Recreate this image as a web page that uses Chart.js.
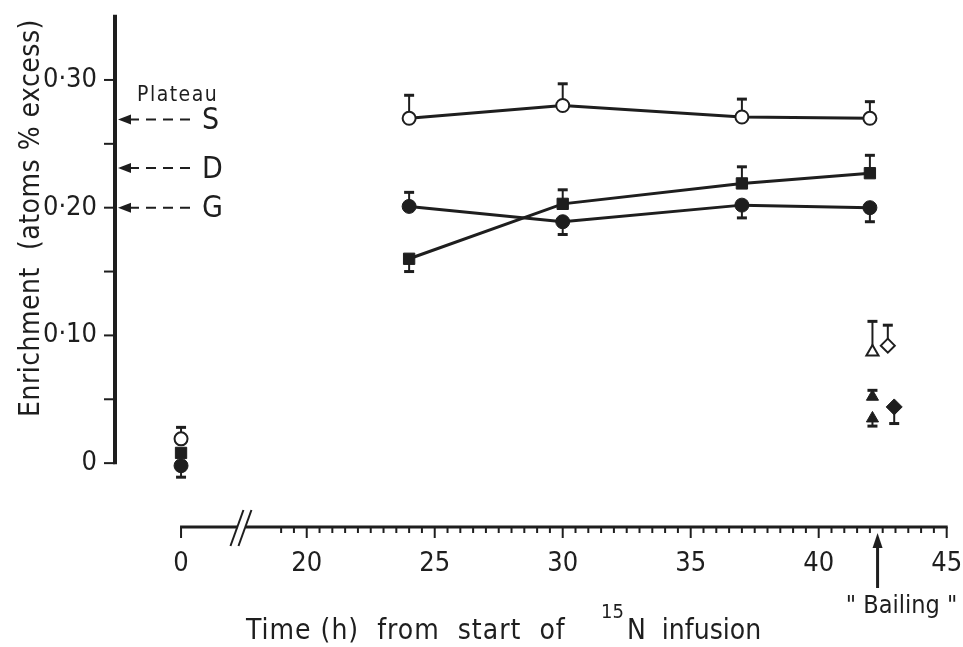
<!DOCTYPE html>
<html>
<head>
<meta charset="utf-8">
<script src="https://cdn.jsdelivr.net/npm/chart.js@4.4.1/dist/chart.umd.min.js"></script>
<style>
  html, body { margin: 0; padding: 0; background: #fff; }
  #wrap { width: 963px; height: 647px; }
</style>
</head>
<body>
<div id="wrap"><canvas id="enrichChart" width="963" height="647"></canvas></div>
<script>
// sampling times (h from start of 15N infusion)
const times = [0, 24, 30, 37, 42];

// S - open circles, error bars above
const sValues = [0.019, 0.270, 0.280, 0.271, 0.270];
const sErr = [0.009, 0.018, 0.017, 0.014, 0.013];
const sErrDir = [1, 1, 1, 1, 1];

// D - filled squares
const dValues = [0.008, 0.160, 0.203, 0.219, 0.227];
const dErr = [0, 0.010, 0.011, 0.013, 0.014];
const dErrDir = [1, -1, 1, 1, 1];

// G - filled circles
const gValues = [-0.002, 0.201, 0.189, 0.202, 0.200];
const gErr = [0.009, 0.011, 0.010, 0.010, 0.011];
const gErrDir = [-1, 1, -1, -1, -1];

// samples taken at bailing
const bailTriTime = 42.1;
const bailOpenDiaTime = 42.7;
const bailFilledDiaTime = 42.95;
const openTriValues = [0.087];
const openTriErr = [0.024];
const openDiaValues = [0.092];
const openDiaErr = [0.016];
const filledTriValues = [0.052, 0.035];
const filledTriErr = [0.005, 0.006];
const filledTriDir = [1, -1];
const filledDiaValues = [0.044];
const filledDiaErr = [0.013];
const bailingTime = 42.3;

// plateau enrichment marked on the y axis
const plateauLabels = ['S', 'D', 'G'];
const plateauValues = [0.269, 0.231, 0.200];

// axis ticks
const yTickValues = [0, 0.10, 0.20, 0.30];
const yTickLabels = ['0', '0·10', '0·20', '0·30'];
const yMinorTicks = [0.05, 0.15, 0.25];
const yAxisTop = 0.351;
const xTickValues = [0, 20, 25, 30, 35, 40, 45];
const xTickLabels = ['0', '20', '25', '30', '35', '40', '45'];

// broken time axis: t = 0 sits just left of the break
const ZERO_POS = 15.09;
const BREAK_POS = 17.45;
function xPos(t) { return t === 0 ? ZERO_POS : t; }

const ink = '#1e1e1e';
const FONT = '"DejaVu Sans Condensed", "DejaVu Sans", sans-serif';

function toPoints(ts, vals) {
    return vals.map((v, i) => ({ x: xPos(Array.isArray(ts) ? ts[i] : ts), y: v }));
}

// no line between the t = 0 sample and the 24 h one
const skipFirst = {
    borderColor: ctx => ctx.p0DataIndex === 0 ? 'rgba(0,0,0,0)' : ink
};

function line(ctx, x1, y1, x2, y2) {
    ctx.beginPath();
    ctx.moveTo(x1, y1);
    ctx.lineTo(x2, y2);
    ctx.stroke();
}

// keep the plot area fixed, labels may hang over its edges
function noLabelPadding(axis) {
    axis.paddingLeft = 0;
    axis.paddingRight = 0;
    axis.paddingTop = 0;
    axis.paddingBottom = 0;
}

const paperNotes = {
    id: 'paperNotes',
    beforeDatasetsDraw(chart) {
        const ctx = chart.ctx;
        const x = chart.scales.x, y = chart.scales.y;
        const area = chart.chartArea;
        ctx.save();
        ctx.strokeStyle = ink;
        ctx.fillStyle = ink;
        ctx.lineCap = 'butt';

        // y axis
        const ax = area.left;
        ctx.lineWidth = 4;
        line(ctx, ax, y.getPixelForValue(0) + 1, ax, y.getPixelForValue(yAxisTop));
        ctx.lineWidth = 2;
        yTickValues.concat(yMinorTicks).forEach(v => {
            const py = y.getPixelForValue(v);
            line(ctx, ax - 11, py, ax, py);
        });

        // x axis, broken between 0 and 19 h
        const by = area.bottom;
        const x0 = x.getPixelForValue(ZERO_POS);
        const xb = x.getPixelForValue(BREAK_POS);
        const xe = x.getPixelForValue(45);
        ctx.lineWidth = 3;
        line(ctx, x0 - 1, by, xb - 4, by);
        line(ctx, xb + 4, by, xe + 1, by);
        ctx.lineWidth = 2;
        line(ctx, x0, by, x0, by + 11);
        for (let t = 19; t <= 45; t += 0.5) {
            const px = x.getPixelForValue(t);
            line(ctx, px, by, px, by + (t % 5 === 0 ? 11 : 6));
        }
        // break marks
        line(ctx, xb - 11, by + 19, xb + 2, by - 17);
        line(ctx, xb - 3, by + 19, xb + 10, by - 17);

        // error bars (markers go on top)
        chart.data.datasets.forEach(ds => {
            if (!ds.errors) return;
            ds.data.forEach((p, i) => {
                const e = ds.errors[i];
                if (!e) return;
                const px = x.getPixelForValue(p.x);
                const py0 = y.getPixelForValue(p.y);
                const py1 = y.getPixelForValue(p.y + ds.errDir[i] * e);
                ctx.lineWidth = 2;
                line(ctx, px, py0, px, py1);
                ctx.lineWidth = 3;
                line(ctx, px - 5, py1, px + 5, py1);
            });
        });
        ctx.restore();
    },
    afterDraw(chart) {
        const ctx = chart.ctx;
        const x = chart.scales.x, y = chart.scales.y;
        const area = chart.chartArea;
        const ax = area.left;
        ctx.save();
        ctx.strokeStyle = ink;
        ctx.fillStyle = ink;

        // plateau arrows
        ctx.font = '21px ' + FONT;
        ctx.letterSpacing = '1.5px';
        ctx.textBaseline = 'middle';
        ctx.textAlign = 'left';
        ctx.fillText('Plateau', 137, 96);
        ctx.letterSpacing = '0px';
        ctx.font = '30px ' + FONT;
        plateauValues.forEach((v, i) => {
            const py = y.getPixelForValue(v);
            ctx.beginPath();
            ctx.moveTo(ax + 3, py);
            ctx.lineTo(ax + 16, py - 5);
            ctx.lineTo(ax + 16, py + 5);
            ctx.closePath();
            ctx.fill();
            ctx.lineWidth = 2;
            ctx.setLineDash([10, 7]);
            line(ctx, ax + 14, py, ax + 80, py);
            ctx.setLineDash([]);
            ctx.fillText(plateauLabels[i], ax + 87, py + 2);
        });

        // bailing arrow
        const bx = x.getPixelForValue(bailingTime);
        const by = area.bottom;
        ctx.lineWidth = 3;
        line(ctx, bx, by + 18, bx, by + 61);
        ctx.beginPath();
        ctx.moveTo(bx, by + 6);
        ctx.lineTo(bx - 5, by + 21);
        ctx.lineTo(bx + 5, by + 21);
        ctx.closePath();
        ctx.fill();
        ctx.font = '25px ' + FONT;
        ctx.textAlign = 'center';
        ctx.fillText('" Bailing "', bx + 24, 606);

        // axis titles
        ctx.textAlign = 'left';
        ctx.textBaseline = 'alphabetic';
        ctx.font = '28px ' + FONT;
        ctx.letterSpacing = '1px';
        ctx.fillText('Time (h)  from  start  of', 246, 639);
        ctx.letterSpacing = '0px';
        ctx.fillText('N  infusion', 627, 639);
        ctx.font = '20px ' + FONT;
        ctx.fillText('15', 601, 618);

        ctx.letterSpacing = '0.5px';
        ctx.translate(39, 417);
        ctx.rotate(-Math.PI / 2);
        ctx.font = '28px ' + FONT;
        ctx.fillText('Enrichment  (atoms % excess)', 0, 0);
        ctx.restore();
    }
};

const lineOpts = { showLine: true, borderColor: ink, borderWidth: 3, segment: skipFirst };

new Chart(document.getElementById('enrichChart'), {
    type: 'scatter',
    data: {
        datasets: [
            Object.assign({
                label: 'G', data: toPoints(times, gValues), errors: gErr, errDir: gErrDir,
                pointStyle: 'circle', pointRadius: 7, pointBackgroundColor: ink, pointBorderColor: ink, pointBorderWidth: 1
            }, lineOpts),
            Object.assign({
                label: 'D', data: toPoints(times, dValues), errors: dErr, errDir: dErrDir,
                pointStyle: 'rect', pointRadius: 8, pointBackgroundColor: ink, pointBorderColor: ink, pointBorderWidth: 1
            }, lineOpts),
            Object.assign({
                label: 'S', data: toPoints(times, sValues), errors: sErr, errDir: sErrDir,
                pointStyle: 'circle', pointRadius: 6.5, pointBackgroundColor: '#fff', pointBorderColor: ink, pointBorderWidth: 2
            }, lineOpts),
            {
                label: 'open triangle', data: toPoints(bailTriTime, openTriValues), errors: openTriErr, errDir: [1],
                pointStyle: 'triangle', pointRadius: 7, pointBackgroundColor: '#fff', pointBorderColor: ink, pointBorderWidth: 2
            },
            {
                label: 'open diamond', data: toPoints(bailOpenDiaTime, openDiaValues), errors: openDiaErr, errDir: [1],
                pointStyle: 'rectRot', pointRadius: 7, pointBackgroundColor: '#fff', pointBorderColor: ink, pointBorderWidth: 2
            },
            {
                label: 'filled triangle', data: toPoints(bailTriTime, filledTriValues), errors: filledTriErr, errDir: filledTriDir,
                pointStyle: 'triangle', pointRadius: 7, pointBackgroundColor: ink, pointBorderColor: ink, pointBorderWidth: 1
            },
            {
                label: 'filled diamond', data: toPoints(bailFilledDiaTime, filledDiaValues), errors: filledDiaErr, errDir: [-1],
                pointStyle: 'rectRot', pointRadius: 8, pointBackgroundColor: ink, pointBorderColor: ink, pointBorderWidth: 1
            }
        ]
    },
    options: {
        responsive: false,
        animation: false,
        devicePixelRatio: 1,
        events: [],
        layout: { autoPadding: false, padding: { left: 0, right: 3, top: 0, bottom: 0 } },
        plugins: { legend: { display: false }, tooltip: { enabled: false } },
        scales: {
            x: {
                type: 'linear',
                min: 12.51,
                max: 45.52,
                grid: { display: false, drawTicks: false },
                border: { display: false },
                afterFit: axis => { axis.height = 120; noLabelPadding(axis); },
                afterBuildTicks: axis => { axis.ticks = xTickValues.map(t => ({ value: xPos(t) })); },
                ticks: {
                    autoSkip: false,
                    maxRotation: 0,
                    padding: 21,
                    color: ink,
                    font: { family: FONT, size: 27 },
                    callback: (v, i) => xTickLabels[i]
                }
            },
            y: {
                min: -0.05,
                max: 0.3626,
                grid: { display: false, drawTicks: false },
                border: { display: false },
                afterFit: axis => { axis.width = 115; noLabelPadding(axis); },
                afterBuildTicks: axis => { axis.ticks = yTickValues.map(v => ({ value: v })); },
                ticks: {
                    padding: 18,
                    color: ink,
                    font: { family: FONT, size: 27 },
                    callback: (v, i) => yTickLabels[i]
                }
            }
        }
    },
    plugins: [paperNotes]
});
</script>
</body>
</html>
